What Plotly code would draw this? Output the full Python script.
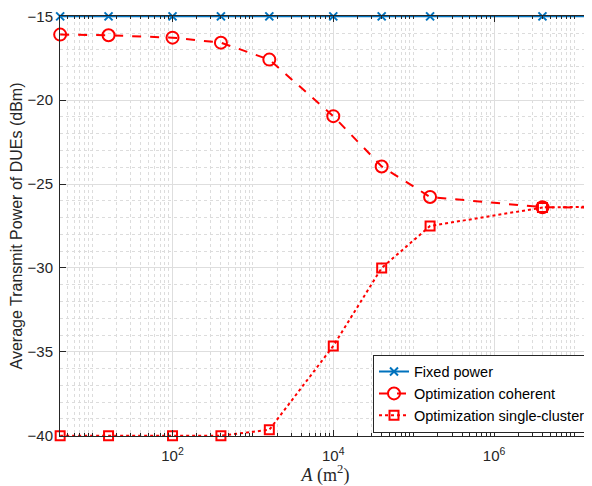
import plotly.graph_objects as go
import numpy as np

area = [4, 16, 100, 400, 1600, 1e4, 4e4, 1.6e5, 4e6, 1.6e7]
fixed_power = [-15, -15, -15, -15, -15, -15, -15, -15, -15, -15]
opt_coherent = [-16.09, -16.13, -16.27, -16.57, -17.58, -20.95, -23.95, -25.77, -26.38, -26.40]
opt_single = [-40.0, -40.0, -40.0, -40.0, -39.65, -34.65, -30.0, -27.5, -26.40, -26.35]

x_tickvals = [1e2, 1e4, 1e6]
x_ticktext = ["10<sup>2</sup>", "10<sup>4</sup>", "10<sup>6</sup>"]
y_tickvals = [-15, -20, -25, -30, -35, -40]

minor_x = []
for k in range(0, 8):
    for m in range(1, 10):
        v = m * 10 ** k
        if v not in x_tickvals:
            minor_x.append(v)

fig = go.Figure()
fig.add_trace(go.Scatter(x=area, y=fixed_power, mode="lines+markers", name="Fixed power",
                         cliponaxis=False,
                         line=dict(color="#0072BD", width=2),
                         marker=dict(symbol="x-thin-open", size=8, color="#0072BD",
                                     line=dict(width=2, color="#0072BD"))))
fig.add_trace(go.Scatter(x=area, y=opt_coherent, mode="lines+markers", name="Optimization coherent",
                         cliponaxis=False,
                         line=dict(color="#FF0000", width=2, dash="dash"),
                         marker=dict(symbol="circle-open", size=12, color="#FF0000",
                                     line=dict(width=2, color="#FF0000"))))
fig.add_trace(go.Scatter(x=area, y=opt_single, mode="lines+markers", name="Optimization single-cluster",
                         cliponaxis=False,
                         line=dict(color="#FF0000", width=2, dash="dot"),
                         marker=dict(symbol="square-open", size=9, color="#FF0000",
                                     line=dict(width=2, color="#FF0000"))))

# page body has an 8px default margin, so the figure is sized to fit the 592x486 window
fig.update_layout(
    width=584, height=478,
    margin=dict(l=52, r=1, t=8, b=50, autoexpand=False),
    paper_bgcolor="white", plot_bgcolor="white",
    font=dict(family="Liberation Sans, Arial, sans-serif", size=15, color="#262626"),
    showlegend=True,
    legend=dict(x=1.0, y=0.008, xanchor="right", yanchor="bottom",
                bgcolor="white", bordercolor="#262626", borderwidth=1,
                font=dict(size=14.5, color="black"), tracegroupgap=0,
                itemwidth=30),
)
fig.update_xaxes(
    type="log", range=[np.log10(4) - 0.002, np.log10(1.6e7) + 0.002],
    automargin=False,
    tickmode="array", tickvals=x_tickvals, ticktext=x_ticktext,
    ticks="inside", ticklen=6, tickcolor="#262626",
    ticklabelstandoff=6, ticklabeloverflow="allow",
    showline=True, linecolor="#262626", linewidth=1, mirror="ticks",
    showgrid=True, gridcolor="#DEDEDE", gridwidth=1,
    zeroline=False,
    minor=dict(tickmode="array", tickvals=minor_x, ticks="inside", ticklen=3,
               tickcolor="#262626", showgrid=True, gridcolor="#DCDCDC", griddash="dot", gridwidth=1),
    title=dict(text="<i>A</i> (m<sup>2</sup>)", font=dict(family="Liberation Serif, Times New Roman, serif", size=18, color="#262626"), standoff=3),
    tickfont=dict(size=15),
)
fig.update_yaxes(
    range=[-40.02, -14.98],
    automargin=False,
    tickmode="array", tickvals=y_tickvals,
    ticks="inside", ticklen=6, tickcolor="#262626",
    ticklabelstandoff=3, ticklabeloverflow="allow",
    showline=True, linecolor="#262626", linewidth=1, mirror="ticks",
    showgrid=True, gridcolor="#DEDEDE", gridwidth=1,
    zeroline=False,
    minor=dict(dtick=1, tick0=-40, ticks="", showgrid=True, gridcolor="#DCDCDC", griddash="dot", gridwidth=1),
    title=dict(text="Average Transmit Power of DUEs (dBm)", font=dict(size=16, color="#262626"), standoff=4),
    tickfont=dict(size=15),
)

fig.write_html("out.html")
